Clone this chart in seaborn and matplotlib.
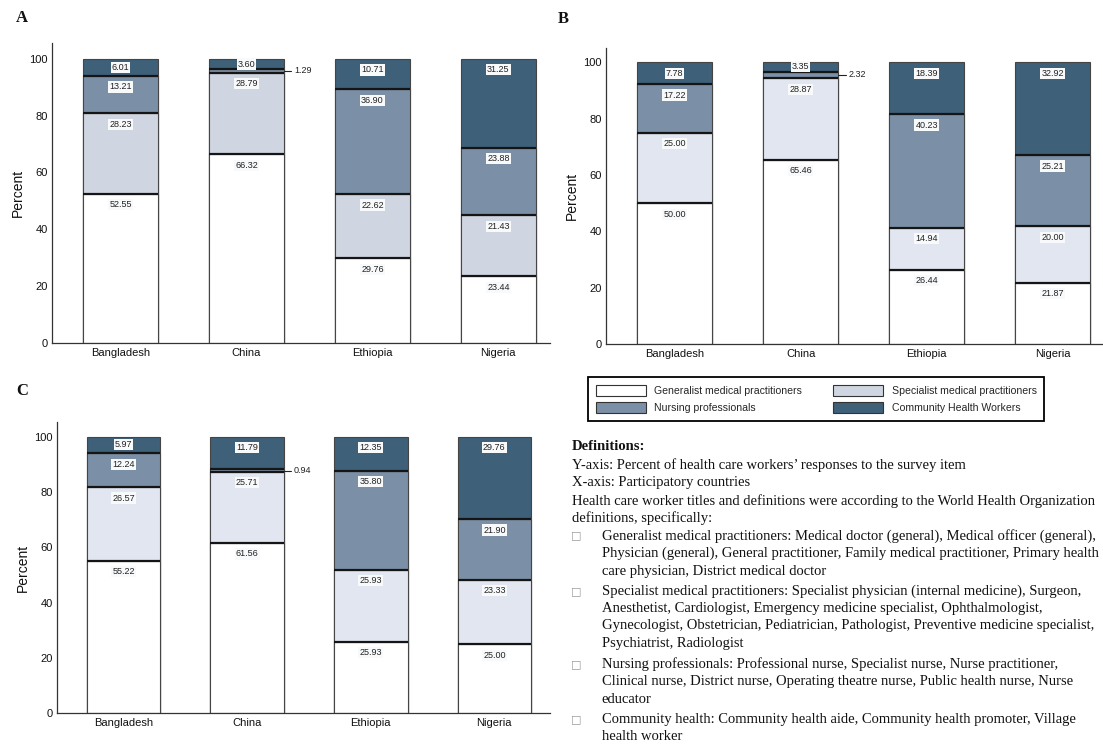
import numpy as np
import pandas as pd
import matplotlib
matplotlib.use("Agg")
import matplotlib.pyplot as plt
from matplotlib.patches import Patch
import seaborn as sns

# ---- data -------------------------------------------------------------
countries = ["Bangladesh", "China", "Ethiopia", "Nigeria"]
categories = ["Generalist medical practitioners", "Specialist medical practitioners",
              "Nursing professionals", "Community Health Workers"]

# panel A
a_generalist = [52.55, 66.32, 29.76, 23.44]
a_specialist = [28.23, 28.79, 22.62, 21.43]
a_nursing = [13.21, 1.29, 36.90, 23.88]
a_chw = [6.01, 3.60, 10.71, 31.25]

# panel B
b_generalist = [50.00, 65.46, 26.44, 21.87]
b_specialist = [25.00, 28.87, 14.94, 20.00]
b_nursing = [17.22, 2.32, 40.23, 25.21]
b_chw = [7.78, 3.35, 18.39, 32.92]

# panel C
c_generalist = [55.22, 61.56, 25.93, 25.00]
c_specialist = [26.57, 25.71, 25.93, 23.33]
c_nursing = [12.24, 0.94, 35.80, 21.90]
c_chw = [5.97, 11.79, 12.35, 29.76]

yticks = [0, 20, 40, 60, 80, 100]

# ---- style ------------------------------------------------------------
sns.set_theme(style="white")
plt.rcParams["font.family"] = ["Liberation Sans", "DejaVu Sans"]

W, H = 1103, 744
fig = plt.figure(figsize=(W / 100, H / 100), dpi=100)


def fx(px):
    return px / W


def fy(py):
    return 1 - py / H


col_white = "#ffffff"
col_nurse = "#7b90a6"
col_chw = "#3e6079"
bar_w = 0.595


def panel(rect, xlim, ylim, series, spec_color, label_x):
    ax = fig.add_axes(rect)
    df = pd.DataFrame({"country": countries,
                       "g": series[0], "s": series[1], "n": series[2], "c": series[3]})
    keys = ["g", "s", "n", "c"]
    colors = [col_white, spec_color, col_nurse, col_chw]
    cum = df[keys].cumsum(axis=1)
    # stacked bars: draw the tallest cumulative total first, lower layers on top
    for k, col in zip(keys[::-1], colors[::-1]):
        sns.barplot(x=df["country"], y=cum[k], color=col, saturation=1, width=bar_w,
                    edgecolor="#454545", linewidth=0.8, errorbar=None,
                    order=countries, ax=ax)
    # thick separators between stacked segments
    for i in range(len(countries)):
        for k in keys[:-1]:
            ax.hlines(cum.loc[i, k], i - bar_w / 2, i + bar_w / 2,
                      color="#151515", lw=1.6, zorder=5)
    # value labels
    ppu = (rect[3] * H) / (ylim[1] - ylim[0])  # pixels per data unit
    off = 11 / ppu
    for i in range(len(countries)):
        for k in keys:
            v = df.loc[i, k]
            top = cum.loc[i, k]
            if v < 2.5:
                yc = top - v / 2
                x0 = i + bar_w / 2
                ax.plot([x0, x0 + 0.06], [yc, yc], color="#222", lw=0.8,
                        clip_on=False, zorder=6)
                ax.text(x0 + 0.08, yc, f"{v:.2f}", ha="left", va="center",
                        fontsize=6.5, color="#222", zorder=7)
            else:
                yc = top - min(off, v / 2)
                ax.text(i, yc, f"{v:.2f}", ha="center", va="center",
                        fontsize=6.5, color="#222", zorder=7,
                        bbox=dict(boxstyle="square,pad=0.12", fc="#f8f9fb", ec="none"))
    ax.set_xlim(*xlim)
    ax.set_ylim(*ylim)
    ax.set_yticks(yticks)
    ax.set_xlabel("")
    ax.set_ylabel("Percent", fontsize=10, color="#111")
    ax.yaxis.set_label_coords(label_x, 0.5)
    ax.tick_params(axis="both", length=0, labelsize=8, colors="#111")
    ax.tick_params(axis="x", pad=3.5)
    ax.tick_params(axis="y", pad=3)
    sns.despine(ax=ax)
    for s in ("left", "bottom"):
        ax.spines[s].set_color("#333333")
        ax.spines[s].set_linewidth(0.9)
    return ax


axA = panel([fx(52), fy(342.7), 498 / W, 299.7 / H], (-0.544, 3.41), (0, 105.6),
            [a_generalist, a_specialist, a_nursing, a_chw], "#d0d6e1", -0.054)
axB = panel([fx(606), fy(344.3), 497 / W, 296.3 / H], (-0.544, 3.40), (0, 105.0),
            [b_generalist, b_specialist, b_nursing, b_chw], "#e1e6f0", -0.054)
axC = panel([fx(57), fy(713.3), 493 / W, 291.6 / H], (-0.538, 3.45), (0, 105.4),
            [c_generalist, c_specialist, c_nursing, c_chw], "#e1e6f0", -0.056)

# panel letters
serif = ["Liberation Serif", "DejaVu Serif"]
for txt, x, y in [("A", 16, 18), ("B", 558, 19), ("C", 16, 391)]:
    fig.text(fx(x), fy(y), txt, fontsize=12, fontweight="bold", family=serif,
             ha="left", va="center", color="#111")

# legend
handles = [Patch(facecolor=c, edgecolor="#333", linewidth=0.8)
           for c in [col_white, col_nurse, "#d0d6e1", col_chw]]
labels = [categories[0], categories[2], categories[1], categories[3]]
leg = fig.legend(handles, labels, ncol=2, loc="upper left",
                 bbox_to_anchor=(fx(588), fy(377)), bbox_transform=fig.transFigure,
                 fontsize=7.6, frameon=True, fancybox=False, framealpha=1,
                 edgecolor="black", borderpad=0.75, handlelength=4.7,
                 handleheight=1.2, handletextpad=0.85, columnspacing=2.9,
                 labelspacing=0.6, borderaxespad=0)
leg.get_frame().set_linewidth(1.3)

# definitions text block
fs = 10.5
fig.text(fx(572), fy(446.7), "Definitions:", fontsize=fs, fontweight="bold",
         family=serif, ha="left", va="center", color="#111")
plain_lines = [
    (465.0, "Y-axis: Percent of health care workers\u2019 responses to the survey item"),
    (482.7, "X-axis: Participatory countries"),
    (500.7, "Health care worker titles and definitions were according to the World Health Organization"),
    (518.3, "definitions, specifically:"),
]
for y, t in plain_lines:
    fig.text(fx(572), fy(y), t, fontsize=fs, family=serif, ha="left", va="center",
             color="#111")

bullets = [
    [(535.7, "Generalist medical practitioners: Medical doctor (general), Medical officer (general),"),
     (553.3, "Physician (general), General practitioner, Family medical practitioner, Primary health"),
     (571.0, "care physician, District medical doctor")],
    [(591.0, "Specialist medical practitioners: Specialist physician (internal medicine), Surgeon,"),
     (608.7, "Anesthetist, Cardiologist, Emergency medicine specialist, Ophthalmologist,"),
     (625.7, "Gynecologist, Obstetrician, Pediatrician, Pathologist, Preventive medicine specialist,"),
     (643.7, "Psychiatrist, Radiologist")],
    [(664.3, "Nursing professionals: Professional nurse, Specialist nurse, Nurse practitioner,"),
     (681.7, "Clinical nurse, District nurse, Operating theatre nurse, Public health nurse, Nurse"),
     (699.3, "educator")],
    [(719.0, "Community health: Community health aide, Community health promoter, Village"),
     (736.7, "health worker")],
]
for block in bullets:
    fig.text(fx(576.5), fy(block[0][0]), "\u25a1", fontsize=8, family=["DejaVu Sans"],
             ha="center", va="center", color="#9a9a9a")
    for y, t in block:
        fig.text(fx(601.7), fy(y), t, fontsize=fs, family=serif, ha="left",
                 va="center", color="#111")

fig.savefig("out.png", dpi=100, facecolor="white")
